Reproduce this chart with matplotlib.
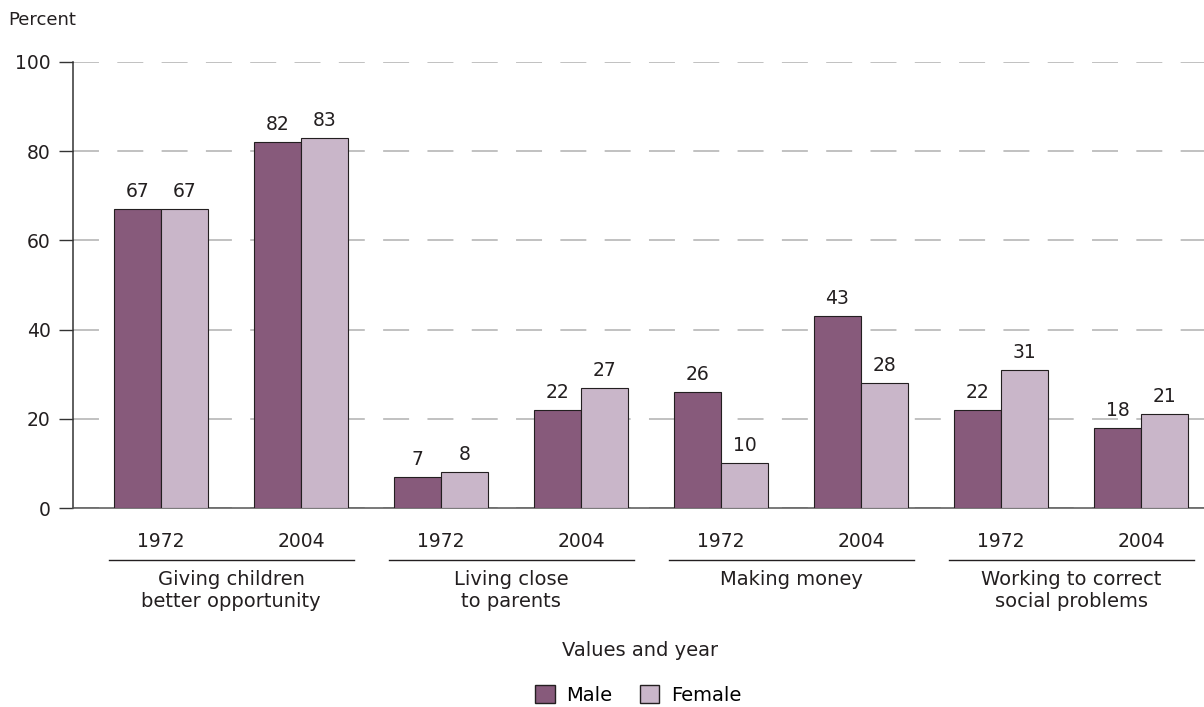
import numpy as np
import matplotlib.pyplot as plt
from matplotlib.patches import Patch

plt.rcParams['font.family'] = ['DejaVu Sans']

years = ['1972', '2004', '1972', '2004', '1972', '2004', '1972', '2004']
groups = ['Giving children\nbetter opportunity', 'Living close\nto parents',
          'Making money', 'Working to correct\nsocial problems']
male = [67, 82, 7, 22, 26, 43, 22, 18]
female = [67, 83, 8, 27, 10, 28, 31, 21]

dark = '#875a7b'
light = '#c9b6c9'
txt = '#231f20'

fig = plt.figure(figsize=(12.04, 7.07), dpi=100)
ax = fig.add_axes([73 / 1204, 199 / 707, 1 - 73 / 1204, 446 / 707])

x = np.arange(len(years))
w = 0.336
ax.bar(x - w / 2, male, w, color=dark, edgecolor=txt, linewidth=0.8, zorder=3)
ax.bar(x + w / 2, female, w, color=light, edgecolor=txt, linewidth=0.8, zorder=3)

for xi, m, f in zip(x, male, female):
    ax.text(xi - w / 2, m + 1.8, str(m), ha='center', va='bottom', fontsize=13.5, color=txt)
    ax.text(xi + w / 2, f + 1.8, str(f), ha='center', va='bottom', fontsize=13.5, color=txt)

ax.set_xlim(-0.629, 7.45)
ax.set_ylim(0, 100)
ax.set_yticks([0, 20, 40, 60, 80, 100])
ax.tick_params(axis='y', direction='out', length=10, width=1, colors='#333333',
               labelsize=13.5, labelcolor=txt, pad=6)
ax.set_xticks([])
ax.yaxis.grid(True, color='#b0b0b0', linewidth=1.1, linestyle=(0, (17, 12)))
ax.set_axisbelow(True)
for s in ['top', 'right']:
    ax.spines[s].set_visible(False)
ax.spines['left'].set_color('#333333')
ax.spines['bottom'].set_color('#555555')
ax.spines['left'].set_linewidth(1.1)
ax.spines['bottom'].set_linewidth(1.1)

trans = ax.get_xaxis_transform()
for xi, yr in zip(x, years):
    ax.text(xi, -0.075, yr, transform=trans, ha='center', va='center', fontsize=13.5, color=txt)

for i, g in enumerate(groups):
    c = 2 * i + 0.5
    ax.plot([c - 0.875, c + 0.875], [-0.117, -0.117], transform=trans, color=txt,
            linewidth=1, clip_on=False)
    ax.text(c, -0.138, g, transform=trans, ha='center', va='top', fontsize=14,
            color=txt, linespacing=1.2)

fig.text(0.532, 1 - 650 / 707, 'Values and year', ha='center', va='center', fontsize=14, color=txt)
fig.text(8 / 1204, 1 - 20 / 707, 'Percent', ha='left', va='center', fontsize=13, color=txt)

handles = [Patch(facecolor=dark, edgecolor=txt, label='Male'),
           Patch(facecolor=light, edgecolor=txt, label='Female')]
fig.legend(handles=handles, loc='center', bbox_to_anchor=(0.53, 1 - 695 / 707), ncol=2,
           frameon=False, fontsize=14, handlelength=1.0, handleheight=1.0,
           handletextpad=0.6, columnspacing=1.4)

fig.savefig('out.png', dpi=100)
